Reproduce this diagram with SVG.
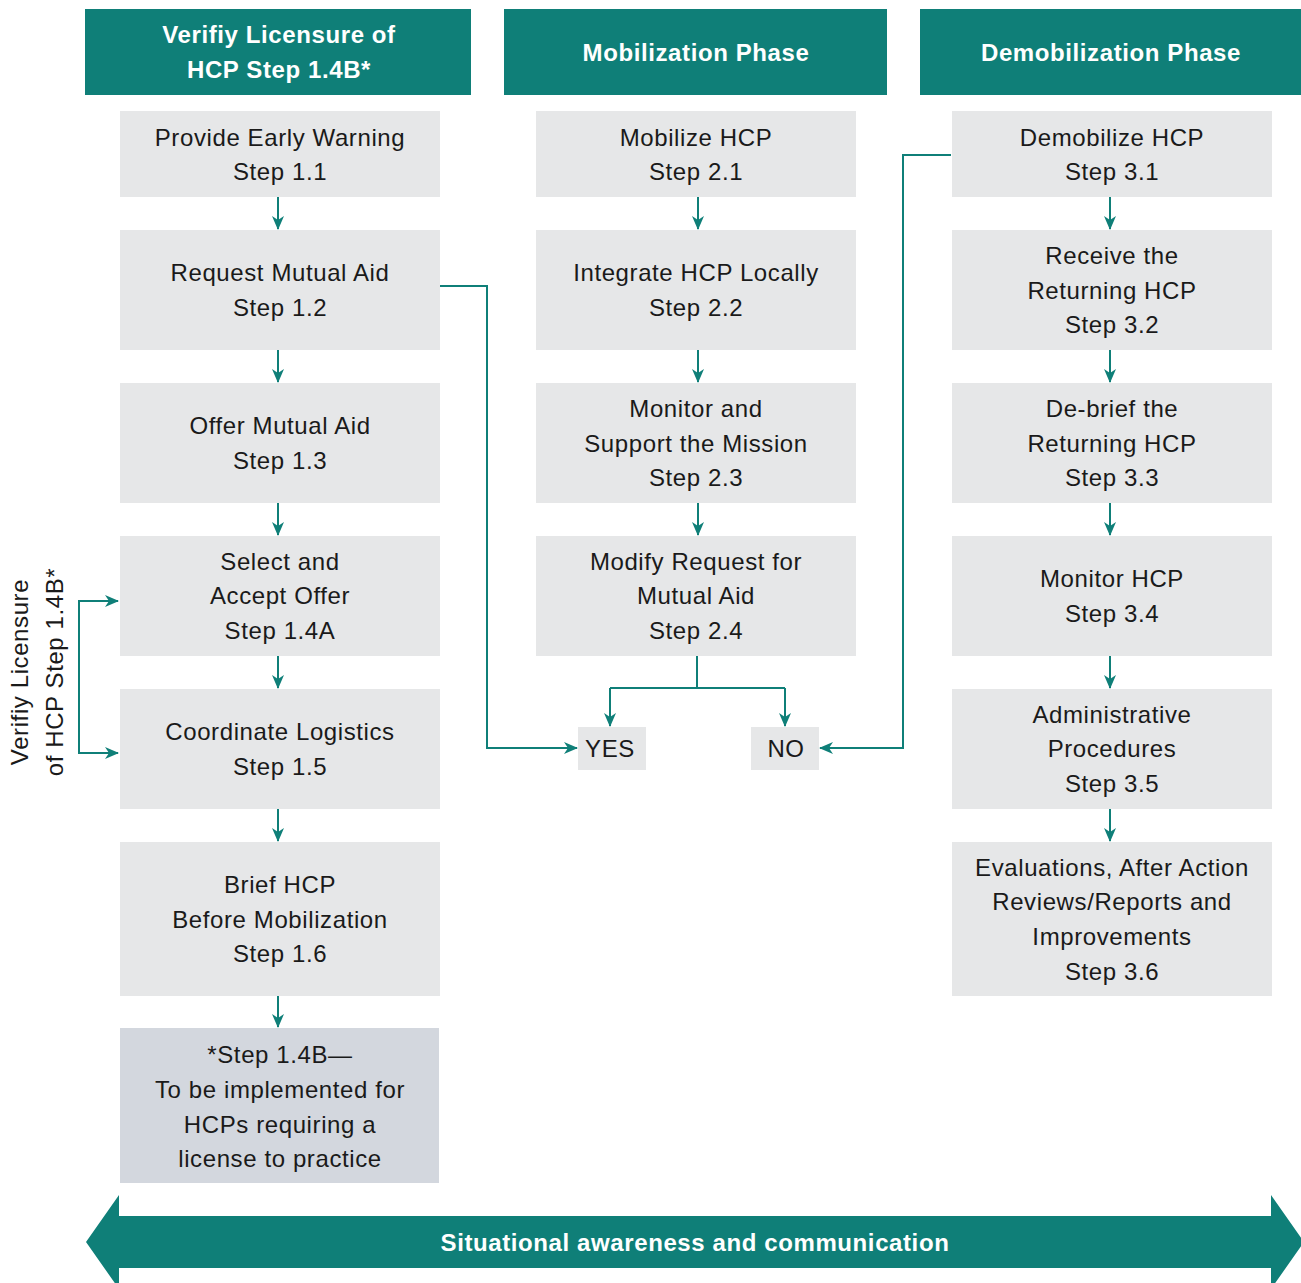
<svg xmlns="http://www.w3.org/2000/svg" width="1301" height="1283" viewBox="0 0 1301 1283">
<style>
.hdr{fill:#0f7f78}
.box{fill:#e6e7e8}
.note{fill:#d3d7de}
.t{font-family:"Liberation Sans",Arial,sans-serif;font-size:24px;letter-spacing:0.6px;fill:#1a1a1a;text-anchor:middle}
.h{font-family:"Liberation Sans",Arial,sans-serif;font-size:24px;letter-spacing:0.6px;font-weight:bold;fill:#ffffff;text-anchor:middle}
.c{fill:none;stroke:#0f7f78;stroke-width:2}
</style>
<defs>
<marker id="ah" markerUnits="userSpaceOnUse" markerWidth="14" markerHeight="14" viewBox="0 0 14 14" refX="13" refY="7" orient="auto">
<path d="M0,1 L14,7 L0,13 L4,7 Z" fill="#0f7f78"/>
</marker>
</defs>
<rect width="1301" height="1283" fill="#ffffff"/>

<g id="header1"><rect class="hdr" x="85" y="9" width="386" height="86"/><text class="h" x="279" y="43">Verifiy Licensure of</text><text class="h" x="279" y="78">HCP Step 1.4B*</text></g>
<g id="header2"><rect class="hdr" x="504" y="9" width="383" height="86"/><text class="h" x="696" y="61">Mobilization Phase</text></g>
<g id="header3"><rect class="hdr" x="920" y="9" width="381" height="86"/><text class="h" x="1111" y="61">Demobilization Phase</text></g>

<g id="s11"><rect class="box" x="120" y="111" width="320" height="86"/><text class="t" x="280" y="146">Provide Early Warning</text><text class="t" x="280" y="180">Step 1.1</text></g>
<g id="s12"><rect class="box" x="120" y="230" width="320" height="120"/><text class="t" x="280" y="281">Request Mutual Aid</text><text class="t" x="280" y="316">Step 1.2</text></g>
<g id="s13"><rect class="box" x="120" y="383" width="320" height="120"/><text class="t" x="280" y="434">Offer Mutual Aid</text><text class="t" x="280" y="469">Step 1.3</text></g>
<g id="s14a"><rect class="box" x="120" y="536" width="320" height="120"/><text class="t" x="280" y="570">Select and</text><text class="t" x="280" y="604">Accept Offer</text><text class="t" x="280" y="639">Step 1.4A</text></g>
<g id="s15"><rect class="box" x="120" y="689" width="320" height="120"/><text class="t" x="280" y="740">Coordinate Logistics</text><text class="t" x="280" y="775">Step 1.5</text></g>
<g id="s16"><rect class="box" x="120" y="842" width="320" height="154"/><text class="t" x="280" y="893">Brief HCP</text><text class="t" x="280" y="928">Before Mobilization</text><text class="t" x="280" y="962">Step 1.6</text></g>
<g id="note"><rect class="note" x="120" y="1028" width="319" height="155"/><text class="t" x="280" y="1063">*Step 1.4B—</text><text class="t" x="280" y="1098">To be implemented for</text><text class="t" x="280" y="1133">HCPs requiring a</text><text class="t" x="280" y="1167">license to practice</text></g>

<g id="s21"><rect class="box" x="536" y="111" width="320" height="86"/><text class="t" x="696" y="146">Mobilize HCP</text><text class="t" x="696" y="180">Step 2.1</text></g>
<g id="s22"><rect class="box" x="536" y="230" width="320" height="120"/><text class="t" x="696" y="281">Integrate HCP Locally</text><text class="t" x="696" y="316">Step 2.2</text></g>
<g id="s23"><rect class="box" x="536" y="383" width="320" height="120"/><text class="t" x="696" y="417">Monitor and</text><text class="t" x="696" y="452">Support the Mission</text><text class="t" x="696" y="486">Step 2.3</text></g>
<g id="s24"><rect class="box" x="536" y="536" width="320" height="120"/><text class="t" x="696" y="570">Modify Request for</text><text class="t" x="696" y="604">Mutual Aid</text><text class="t" x="696" y="639">Step 2.4</text></g>
<g id="yes"><rect class="box" x="578" y="727" width="68" height="43"/><text class="t" x="610" y="757">YES</text></g>
<g id="no"><rect class="box" x="751" y="727" width="68" height="43"/><text class="t" x="786" y="757">NO</text></g>

<g id="s31"><rect class="box" x="952" y="111" width="320" height="86"/><text class="t" x="1112" y="146">Demobilize HCP</text><text class="t" x="1112" y="180">Step 3.1</text></g>
<g id="s32"><rect class="box" x="952" y="230" width="320" height="120"/><text class="t" x="1112" y="264">Receive the</text><text class="t" x="1112" y="299">Returning HCP</text><text class="t" x="1112" y="333">Step 3.2</text></g>
<g id="s33"><rect class="box" x="952" y="383" width="320" height="120"/><text class="t" x="1112" y="417">De-brief the</text><text class="t" x="1112" y="452">Returning HCP</text><text class="t" x="1112" y="486">Step 3.3</text></g>
<g id="s34"><rect class="box" x="952" y="536" width="320" height="120"/><text class="t" x="1112" y="587">Monitor HCP</text><text class="t" x="1112" y="622">Step 3.4</text></g>
<g id="s35"><rect class="box" x="952" y="689" width="320" height="120"/><text class="t" x="1112" y="723">Administrative</text><text class="t" x="1112" y="757">Procedures</text><text class="t" x="1112" y="792">Step 3.5</text></g>
<g id="s36"><rect class="box" x="952" y="842" width="320" height="154"/><text class="t" x="1112" y="876">Evaluations, After Action</text><text class="t" x="1112" y="910">Reviews/Reports and</text><text class="t" x="1112" y="945">Improvements</text><text class="t" x="1112" y="980">Step 3.6</text></g>

<g id="sidelabel">
<text class="t" transform="translate(28,672) rotate(-90)" x="0" y="0">Verifiy Licensure</text>
<text class="t" transform="translate(63,672) rotate(-90)" x="0" y="0">of HCP Step 1.4B*</text>
</g>

<g id="connectors">
<path class="c" marker-end="url(#ah)" d="M278,197 V229"/>
<path class="c" marker-end="url(#ah)" d="M278,350 V382"/>
<path class="c" marker-end="url(#ah)" d="M278,503 V535"/>
<path class="c" marker-end="url(#ah)" d="M278,656 V688"/>
<path class="c" marker-end="url(#ah)" d="M278,809 V841"/>
<path class="c" marker-end="url(#ah)" d="M278,996 V1027"/>
<path class="c" marker-end="url(#ah)" d="M698,197 V229"/>
<path class="c" marker-end="url(#ah)" d="M698,350 V382"/>
<path class="c" marker-end="url(#ah)" d="M698,503 V535"/>
<path class="c" marker-end="url(#ah)" d="M1110,197 V229"/>
<path class="c" marker-end="url(#ah)" d="M1110,350 V382"/>
<path class="c" marker-end="url(#ah)" d="M1110,503 V535"/>
<path class="c" marker-end="url(#ah)" d="M1110,656 V688"/>
<path class="c" marker-end="url(#ah)" d="M1110,809 V841"/>
<path class="c" d="M697,656 V688 M610,688 H785"/>
<path class="c" marker-end="url(#ah)" d="M610,688 V726"/>
<path class="c" marker-end="url(#ah)" d="M785,688 V726"/>
<path class="c" marker-end="url(#ah)" d="M440,286 H487 V748 H577"/>
<path class="c" marker-end="url(#ah)" d="M951,155 H903 V748 H820"/>
<path class="c" marker-end="url(#ah)" d="M118,601 H79 V753 H118"/>
<path class="c" marker-end="url(#ah)" d="M80,601 H118"/>
</g>

<g id="banner">
<path fill="#0f7f78" d="M86,1242 L119,1195 L119,1216 L1271,1216 L1271,1195 L1304,1242 L1271,1289 L1271,1268 L119,1268 L119,1289 Z"/>
<text class="h" x="695" y="1251">Situational awareness and communication</text>
</g>
</svg>
